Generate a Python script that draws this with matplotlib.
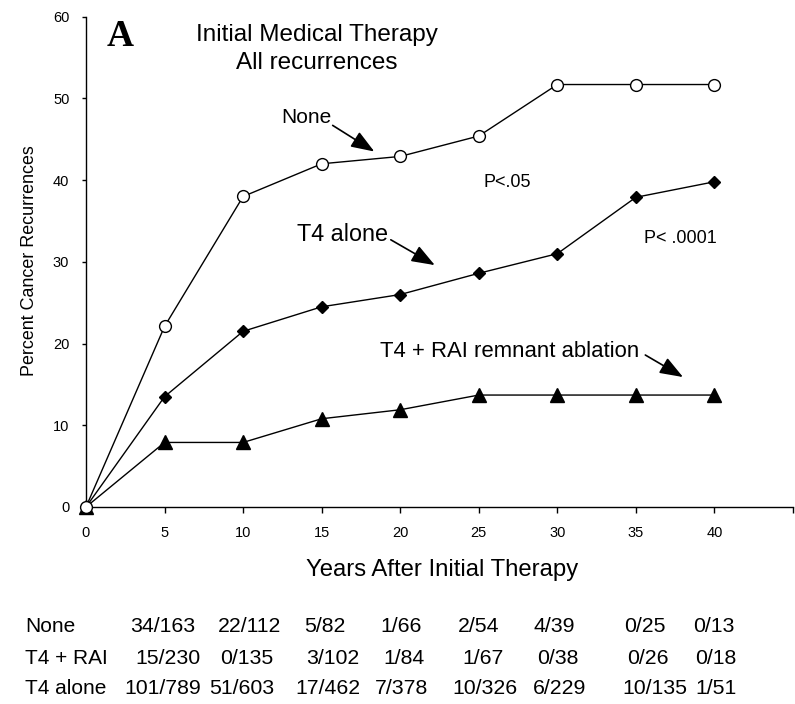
import matplotlib
matplotlib.use('Agg')
import matplotlib.pyplot as plt

years = [0, 5, 10, 15, 20, 25, 30, 35, 40]
none_pct = [0, 22.1, 38.0, 42.0, 42.9, 45.4, 51.7, 51.7, 51.7]
t4_pct = [0, 13.5, 21.5, 24.5, 26.0, 28.6, 31.0, 37.9, 39.8]
rai_pct = [0, 7.9, 7.9, 10.8, 11.9, 13.7, 13.7, 13.7, 13.7]

row_names = ['None', 'T4 + RAI', 'T4 alone']
row_counts = [
    ['34/163', '22/112', '5/82', '1/66', '2/54', '4/39', '0/25', '0/13'],
    ['15/230', '0/135', '3/102', '1/84', '1/67', '0/38', '0/26', '0/18'],
    ['101/789', '51/603', '17/462', '7/378', '10/326', '6/229', '10/135', '1/51'],
]

sans = 'Liberation Sans'

W, H = 795, 704
fig = plt.figure(figsize=(W / 100, H / 100), dpi=100)


def px(x, y):
    # pixel position -> figure fraction
    return x / W, 1 - y / H


ax = fig.add_axes([86 / W, 1 - 507 / H, (793 - 86) / W, (507 - 16.7) / H])
ax.plot(years, rai_pct, '-', color='black', lw=1, marker='^', ms=9.5, mfc='black', mec='black', zorder=3)
ax.plot(years, t4_pct, '-', color='black', lw=1, marker='D', ms=6.5, mfc='black', mec='black', zorder=3)
ax.plot(years, none_pct, '-', color='black', lw=1, marker='o', ms=8.5, mfc='white', mec='black', mew=1, zorder=4)

ax.set_xlim(0, 45)
ax.set_ylim(0, 60)
ax.set_xticks(range(0, 46, 5))
ax.set_xticklabels([str(v) for v in range(0, 41, 5)] + [''])
ax.set_yticks(range(0, 61, 10))
for s in ['top', 'right']:
    ax.spines[s].set_visible(False)
ax.spines['left'].set_linewidth(1)
ax.spines['bottom'].set_linewidth(1)
ax.tick_params(axis='x', direction='out', length=4, width=1, pad=10)
ax.tick_params(axis='y', direction='out', length=3, width=1, pad=9)
for lab in ax.get_xticklabels() + ax.get_yticklabels():
    lab.set_fontfamily(sans)
    lab.set_fontsize(10.5)
for ln in ax.lines:
    ln.set_clip_on(False)

fig.text(*px(30, 261), 'Percent Cancer Recurrences', rotation=90, ha='center', va='center',
         family=sans, fontsize=12.9)
fig.text(*px(442, 570), 'Years After Initial Therapy', ha='center', va='center',
         family=sans, fontsize=17.2)

fig.text(*px(107, 36), 'A', ha='left', va='center', family='Liberation Serif',
         fontweight='bold', fontsize=27)
fig.text(*px(317, 35), 'Initial Medical Therapy', ha='center', va='center', family=sans, fontsize=17.5)
fig.text(*px(317, 63), 'All recurrences', ha='center', va='center', family=sans, fontsize=17.5)

arrow = dict(arrowstyle='-|>,head_length=0.75,head_width=0.28', mutation_scale=19, lw=1.2,
             color='black', shrinkA=0, shrinkB=0)
ax.text(12.4, 47.7, 'None', ha='left', va='center', family=sans, fontsize=15)
ax.annotate('', xy=(18.35, 43.5), xytext=(15.7, 46.7), arrowprops=arrow)
ax.text(13.4, 33.3, 'T4 alone', ha='left', va='center', family=sans, fontsize=16.8)
ax.annotate('', xy=(22.2, 29.6), xytext=(19.4, 32.7), arrowprops=arrow)
ax.text(18.7, 19.0, 'T4 + RAI remnant ablation', ha='left', va='center', family=sans, fontsize=15.9)
ax.annotate('', xy=(38.0, 15.9), xytext=(35.6, 18.6), arrowprops=arrow)
ax.text(25.3, 39.7, 'P<.05', ha='left', va='center', family=sans, fontsize=13)
ax.text(35.5, 32.8, 'P< .0001', ha='left', va='center', family=sans, fontsize=13)

# counts table under the axis
row_y = [627, 658, 688]
col_x = [
    [130, 218, 304, 380, 458, 533, 624, 693],
    [135, 220, 306, 383, 462, 537, 627, 695],
    [124, 209, 295, 375, 452, 533, 622, 695],
]
for i, name in enumerate(row_names):
    fig.text(*px(25, row_y[i]), name, ha='left', va='center', family=sans, fontsize=15)
    for j, txt in enumerate(row_counts[i]):
        fig.text(*px(col_x[i][j], row_y[i]), txt, ha='left', va='center', family=sans, fontsize=15.3)

fig.savefig('out.png', dpi=100)
